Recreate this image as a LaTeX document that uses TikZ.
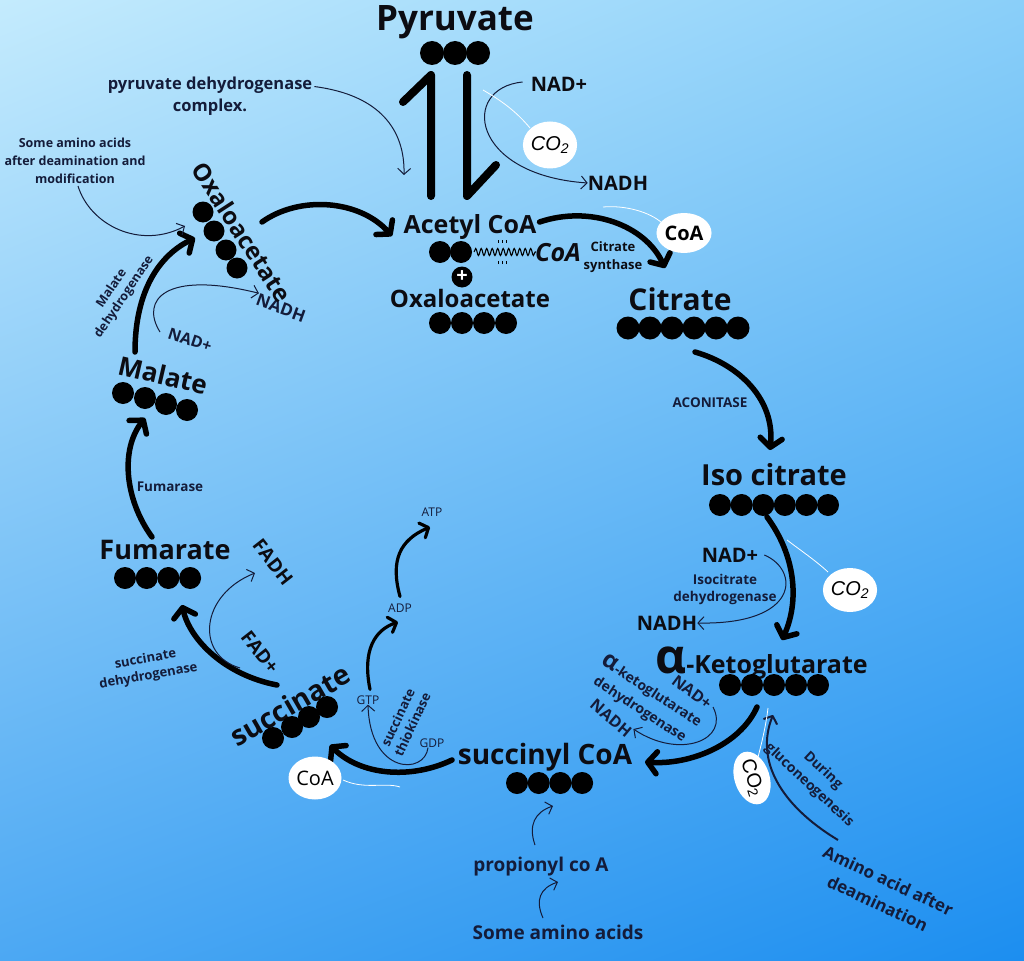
\documentclass[tikz,border=0pt]{standalone}
\usepackage{fontspec}
\setmainfont{Open Sans}
\newfontfamily\arialfont{Liberation Sans}
\usetikzlibrary{arrows.meta,shapes.geometric,decorations.pathmorphing,shadings}

\definecolor{ink}{RGB}{12,12,18}
\definecolor{navy}{RGB}{20,28,58}
\definecolor{skyUL}{RGB}{196,235,253}
\definecolor{skyUR}{RGB}{138,207,249}
\definecolor{skyLL}{RGB}{76,168,243}
\definecolor{skyLR}{RGB}{28,142,240}

\tikzset{
  big/.style={font=\bfseries\fontsize{#1}{#1}\selectfont, text=ink, inner sep=0pt},
  lab/.style 2 args={font=\bfseries\fontsize{#1}{#2}\selectfont, text=navy, inner sep=0pt, align=center},
  nuc/.style={font=\fontsize{12}{12}\selectfont, text=navy, inner sep=0pt},
  dot/.style={circle, fill=black, minimum size=#1, inner sep=0pt},
  dot/.default=22pt,
  bubble/.style={ellipse, fill=white, inner sep=0pt, minimum width=48pt, minimum height=42pt},
  flux/.style={line width=5.5pt, line cap=round, -{Straight Barb[round,length=9pt,width=22pt]}},
  half/.style={line width=3.2pt, line cap=round, -{Straight Barb[round,length=7pt,width=16pt]}},
  minor/.style={line width=1pt, navy, -{Straight Barb[length=6pt,width=13pt]}},
  wisp/.style={white, line width=0.8pt}
}

\newcommand{\cotwo}{{\arialfont\itshape CO\textsubscript{2}}}

\begin{document}
\begin{tikzpicture}[x=1pt, y=-1pt]
\useasboundingbox (0,0) rectangle (1024,960);
\shade[upper left=skyUL, upper right=skyUR, lower left=skyLL, lower right=skyLR] (0,0) rectangle (1024,960);

% Pyruvate
\node[big=35] (pyr) at (455,22) {Pyruvate};
\foreach \i in {0,1,2} \node[dot=24pt] (pyr\i) at (432+23*\i,53) {};
\draw[line width=8pt, line cap=round, line join=round] (403,102) -- (431,75) -- (431,196);
\draw[line width=8pt, line cap=round, line join=round] (467,75) -- (467,196) -- (496,165);
\node[lab={16.5}{22}] (pdh) at (210,96) {pyruvate dehydrogenase\\complex.};
\coordinate (pdhEnd) at (404,175);
\draw[minor] (pdh.north east) ++(2,10) .. controls (380,95) and (405,130) .. (pdhEnd);
\node[big=20] (nadA) at (559,84) {NAD+};
\node[big=20] (nadhA) at (618,183) {NADH};
\draw[minor] (nadA.west) ++(-8,-2) .. controls (460,88) and (470,175) .. (nadhA.west);
\draw[wisp] (483,90) .. controls (500,100) and (515,110) .. (530,128);
\node[bubble, minimum width=50pt, minimum height=47pt, font=\fontsize{20}{20}\selectfont] (co2A) at (550,145) {\cotwo};

% Acetyl CoA + oxaloacetate
\node[big=25] (acoa) at (470,227) {Acetyl CoA};
\foreach \i in {0,1} \node[dot] (ac\i) at (440+21*\i,252) {};
\coordinate (wavyA) at (474,252);
\coordinate (wavyB) at (536,252);
\draw[line width=1.1pt, decorate, decoration={snake, amplitude=3.5pt, segment length=5.5pt}] (wavyA) -- (wavyB);
\foreach \dx in {-5,-1,3} {
  \draw[line width=0.8pt] (503+\dx,240) -- ++(0,3);
  \draw[line width=0.8pt] (503+\dx,264) -- ++(0,-3);
}
\node[big=25, font=\bfseries\itshape\fontsize{25}{25}\selectfont] (coaTail) at (558,253) {CoA};
\node[circle, fill=black, minimum size=21pt, inner sep=0pt, text=white, font=\bfseries\fontsize{20}{20}\selectfont] (plus) at (462,277) {+};
\node[big=24] (oaaC) at (470,298) {Oxaloacetate};
\foreach \i in {0,...,3} \node[dot] (oc\i) at (440+22*\i,323) {};
\node[lab={13}{18}, text=ink] (cs) at (613,257) {Citrate\\synthase};
\draw[flux] (acoa.east) ++(3,-5) .. controls (590,205) and (645,225) .. (665,268);
\draw[wisp] (603,207) .. controls (625,205) and (650,212) .. (662,223);
\node[bubble, minimum width=48pt, minimum height=40pt, font=\bfseries\fontsize{20}{20}\selectfont] (coaB) at (684,233) {CoA};

% Citrate, Iso citrate
\node[big=30] (cit) at (680,299) {Citrate};
\foreach \i in {0,...,5} \node[dot=23pt] (ci\i) at (628+22*\i,328) {};
\node[lab={13.5}{13.5}] (aco) at (710,403) {ACONITASE};
\draw[flux] (695,352) .. controls (740,365) and (775,400) .. (770,450);
\node[big=29] (iso) at (774,475) {Iso citrate};
\foreach \i in {0,...,5} \node[dot] (is\i) at (720+21.6*\i,505) {};
\node[big=20] (nadB) at (730,555) {NAD+};
\node[lab={13.5}{17}] (idh) at (725,589) {Isocitrate\\dehydrogenase};
\node[big=20] (nadhB) at (667,623) {NADH};
\draw[minor] (nadB.east) ++(6,0) .. controls (800,570) and (800,625) .. (nadhB.east);
\draw[flux] (767,517) .. controls (795,555) and (800,600) .. (782,640);
\draw[wisp] (787,540) .. controls (800,550) and (815,560) .. (828,572);
\node[bubble, minimum width=48pt, minimum height=44pt, font=\fontsize{20}{20}\selectfont] (co2B) at (850,590) {\cotwo};

% alpha-Ketoglutarate
\node[big=25, anchor=base west] (akg) at (655,673) {\fontsize{48}{48}\selectfont α\fontsize{25}{25}\selectfont-Ketoglutarate};
\foreach \i in {0,...,4} \node[dot] (ak\i) at (730+22*\i,685) {};
\node[lab={14}{21}, rotate=-33] (kgdh) at (646,700) {{\fontsize{24}{24}\selectfont α}-ketoglutarate\\dehydrogenase};
\node[big=16, rotate=-40, text=navy] (nadhC) at (611,718) {NADH};
\node[big=16, rotate=-37, text=navy] (nadC) at (692,692) {NAD+};
\draw[minor] (713,707) .. controls (730,740) and (680,760) .. (nadhC.north east);
\draw[flux] (757,707) .. controls (740,745) and (690,765) .. (645,762);

% succinyl CoA
\node[big=28] (scoa) at (545,757) {succinyl CoA};
\foreach \i in {0,...,3} \node[dot] (sc\i) at (517+21.7*\i,783) {};
\node[lab={19}{19}] (prop) at (541,867) {propionyl co A};
\node[lab={19}{19}] (someaa) at (558,932) {Some amino acids};
\draw[minor] (535,845) .. controls (528,825) and (535,812) .. (553,806);
\draw[minor] (543,918) .. controls (535,900) and (540,888) .. (558,882);

% amino acid after deamination
\node[lab={17}{25}, rotate=-25] (aaA) at (883,892) {Amino acid after\\deamination};
\node[lab={14}{20}, rotate=-43] (dur) at (816,778) {During\\gluconeogenesis};
\draw[line width=2pt, navy, -{Straight Barb[round,length=6pt,width=14pt]}] (838,840) .. controls (780,805) and (755,760) .. (773,715);
\draw[wisp] (768,708) .. controls (766,725) and (762,742) .. (758,757);
\node[bubble, minimum width=46pt, minimum height=35pt, rotate=-72, font=\arialfont\fontsize{20}{20}\selectfont] (co2C) at (752,778) {CO\textsubscript{2}};

% succinate
\draw[flux] (452,760) .. controls (410,780) and (360,775) .. (330,745);
\draw[wisp] (343,780) .. controls (365,790) and (385,782) .. (400,787);
\node[bubble, minimum width=53pt, minimum height=43pt, font=\fontsize{20}{20}\selectfont] (coaC) at (315,778) {CoA};
\node[big=28, rotate=30] (succ) at (290,705) {succinate};
\foreach \i/\x/\y in {0/273/738,1/292/727,2/309/717,3/327/707} \node[dot] (su\i) at (\x,\y) {};
\node[nuc] (gdp) at (432,743) {GDP};
\node[nuc] (gtp) at (368,700) {GTP};
\node[nuc] (adp) at (400,608) {ADP};
\node[nuc] (atp) at (432,512) {ATP};
\draw[minor] (gdp.south) ++(-4,0) .. controls (425,775) and (370,775) .. (gtp.south);
\node[lab={13}{16}, rotate=65] (stk) at (405,721) {succinate\\thiokinase};
\draw[half] (gtp.north) ++(2,-6) .. controls (362,650) and (375,630) .. (398,622);
\draw[half] (adp.north) ++(0,-7) .. controls (390,560) and (400,540) .. (430,527);

% fumarate
\node[lab={13}{17}, rotate=10] (sdh) at (147,668) {succinate\\dehydrogenase};
\node[big=19, rotate=-52] (fadp) at (260,652) {FAD+};
\node[big=19, rotate=-52] (fadh) at (273,562) {FADH};
\draw[flux] (277,685) .. controls (225,675) and (190,640) .. (182,605);
\draw[minor] (240,668) .. controls (195,655) and (200,595) .. (255,573);
\node[big=27] (fum) at (165,550) {Fumarate};
\foreach \i in {0,...,3} \node[dot] (fu\i) at (125+21.7*\i,578) {};
\node[lab={13.5}{13.5}] (fumase) at (170,487) {Fumarase};
\draw[flux] (152,537) .. controls (125,500) and (120,450) .. (145,418);

% malate
\node[big=26, rotate=-13] (mal) at (163,375) {Malate};
\foreach \i/\x/\y in {0/123/393,1/145/398,2/166/404,3/187/410} \node[dot] (ma\i) at (\x,\y) {};
\node[big=16, rotate=-18, text=navy] (nadD) at (190,340) {NAD+};
\node[lab={12.5}{15}, rotate=56] (mdh) at (118,293) {Malate\\dehydrogenase};
\draw[flux] (135,352) .. controls (135,290) and (160,255) .. (195,238);
\node[big=17, rotate=-20, text=navy] (nadhD) at (281,308) {NADH};
\draw[minor] (160,332) .. controls (140,300) and (165,270) .. (nadhD.north west);

% oxaloacetate
\node[big=24, rotate=-57] (oaa) at (242,232) {Oxaloacetate};
\foreach \i/\x/\y in {0/203/212,1/214/231,2/226/250,3/237/268} \node[dot=21pt] (oa\i) at (\x,\y) {};
\node[lab={12.5}{18}] (aamod) at (75,161) {Some amino acids\\after deamination and\\modification};
\draw[minor] (aamod.south) ++(3,2) .. controls (90,225) and (140,250) .. (185,226);
\draw[flux] (262,222) .. controls (300,195) and (360,200) .. (392,236);
\end{tikzpicture}
\end{document}
